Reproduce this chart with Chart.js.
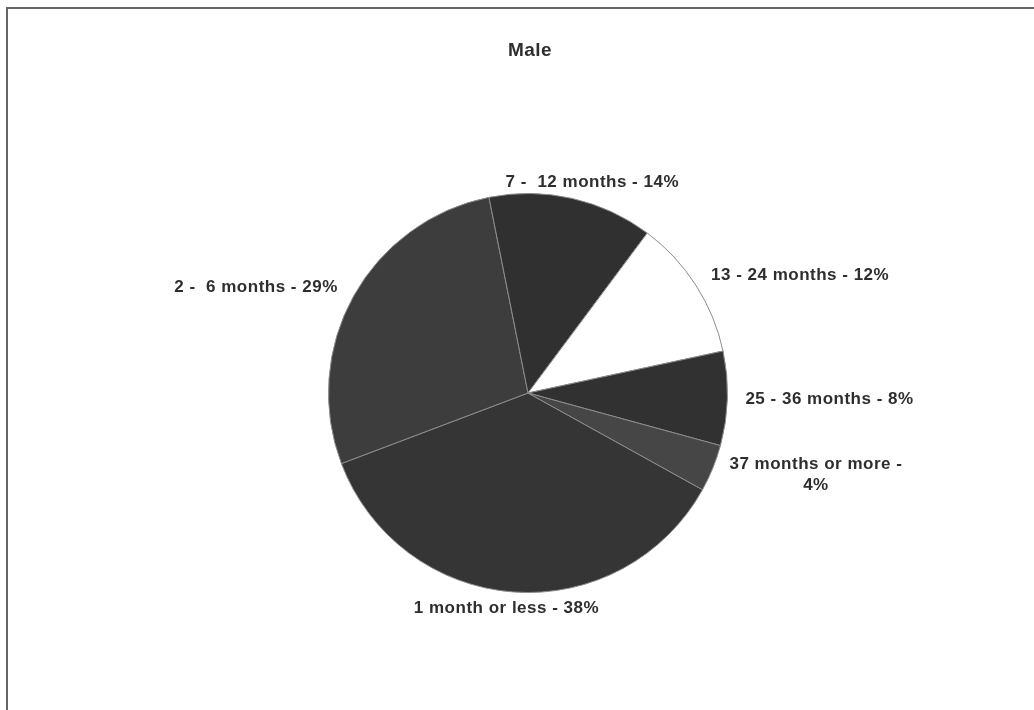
<!DOCTYPE html>
<html>
<head>
<meta charset="utf-8">
<script src="https://cdn.jsdelivr.net/npm/chart.js@4/dist/chart.umd.min.js"></script>
<style>
  html, body { margin: 0; padding: 0; background: #fff; }
  #wrap { position: relative; width: 1034px; height: 710px; overflow: hidden; }
  #frame {
    position: absolute; left: 6px; top: 7px; width: 1100px; height: 800px;
    border-left: 2px solid #666; border-top: 2px solid #666; pointer-events: none;
  }
</style>
</head>
<body>
<div id="wrap">
  <canvas id="c" width="1034" height="710"></canvas>
  <div id="frame"></div>
</div>
<script>
// Duration of unemployment, male respondents
const chartTitle = 'Male';
const categories = ['1 month or less', '2 -  6 months', '7 -  12 months', '13 - 24 months', '25 - 36 months', '37 months or more'];
const percents = [38, 29, 14, 12, 8, 4];
const sliceColors = ['#353535', '#3d3d3d', '#303030', '#ffffff', '#313131', '#464646'];

// Outside labels: "category - value%", wrapped when a second line is needed
const labelLines = categories.map((c, i) =>
  c === '37 months or more' ? [c + ' -', percents[i] + '%'] : [c + ' - ' + percents[i] + '%']
);

const FONT = '"Liberation Sans", Arial, sans-serif';

const textLayer = {
  id: 'textLayer',
  afterDatasetsDraw(chart) {
    const ctx = chart.ctx;
    const meta = chart.getDatasetMeta(0);
    ctx.save();
    ctx.fillStyle = '#2e2e2e';
    ctx.textBaseline = 'middle';

    // chart title, centred over the pie
    const arc0 = meta.data[0];
    ctx.textAlign = 'center';
    ctx.font = 'bold 19px ' + FONT;
    ctx.letterSpacing = '0.5px';
    ctx.fillText(chartTitle, arc0.x + 2, 51);

    // slice labels, placed just outside each slice's middle angle
    ctx.font = 'bold 17px ' + FONT;
    ctx.letterSpacing = '0.5px';
    const lineH = 21;
    meta.data.forEach((arc, i) => {
      const p = arc.getProps(['x', 'y', 'startAngle', 'endAngle', 'outerRadius'], true);
      const mid = (p.startAngle + p.endAngle) / 2;
      const c = Math.cos(mid), s = Math.sin(mid);
      const lines = labelLines[i];
      const w = Math.max(...lines.map(l => ctx.measureText(l).width));
      const h = lines.length * lineH;
      let cx, cy;
      if (Math.abs(c) > 0.35) {
        const r = p.outerRadius + 18;
        cx = p.x + c * r + Math.sign(c) * w / 2;
        cy = p.y + s * r;
      } else {
        const r = p.outerRadius + 6;
        cx = p.x + c * r + c * w / 2;
        cy = p.y + s * r + Math.sign(s) * h / 2;
      }
      ctx.textAlign = 'center';
      lines.forEach((l, k) => {
        ctx.fillText(l, cx, cy - h / 2 + lineH / 2 + k * lineH);
      });
    });
    ctx.restore();
  }
};

new Chart(document.getElementById('c'), {
  type: 'pie',
  data: {
    labels: categories,
    datasets: [{
      data: percents,
      backgroundColor: sliceColors,
      borderColor: '#8c8c8c',
      borderWidth: 1
    }]
  },
  options: {
    responsive: false,
    animation: false,
    rotation: 119,
    layout: { padding: { top: 193, left: 22, right: 0, bottom: 117 } },
    plugins: {
      legend: { display: false },
      tooltip: { enabled: false },
      title: { display: false }
    }
  },
  plugins: [textLayer]
});
</script>
</body>
</html>
